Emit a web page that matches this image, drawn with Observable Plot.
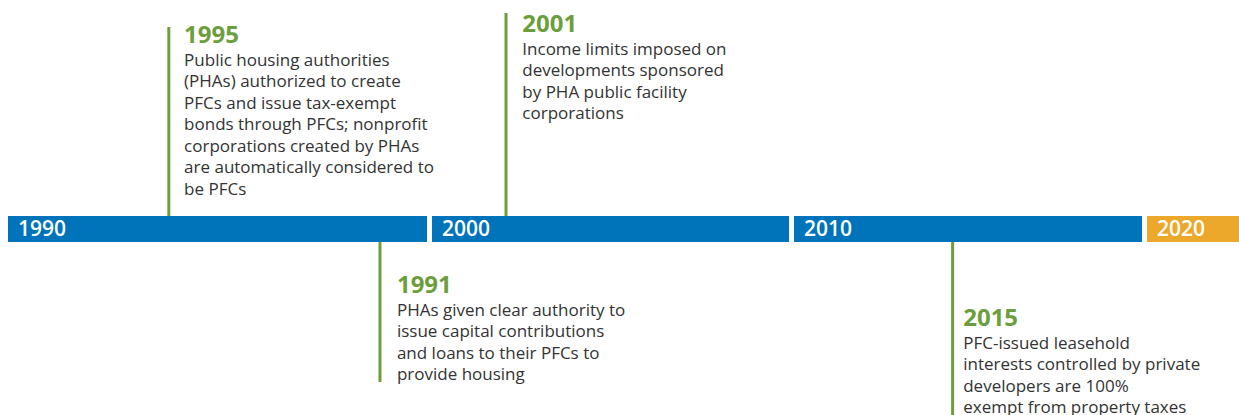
<!DOCTYPE html>
<html>
<head>
<meta charset="utf-8">
<script src="https://cdn.jsdelivr.net/npm/d3@7"></script>
<script src="https://cdn.jsdelivr.net/npm/@observablehq/plot@0.6"></script>
<style>
  html, body { margin: 0; padding: 0; background: #fff; }
  svg { display: block; }
</style>
</head>
<body>
<div id="chart"></div>
<script>
// Timeline decades (bar segments)
const decadeStarts = [1990, 2000, 2010, 2020];
const decadeEnds   = [2000, 2010, 2020, 2023];
const decadeLabels = ["1990", "2000", "2010", "2020"];
const decadeCurrent = [false, false, false, true];

// Events
const eventYears = ["1995", "2001", "1991", "2015"];
const eventAt     = [1993.84, 2002.1, 1998.82, 2014.55];   // marker position on the timeline
const eventTextAt = [1994.2, 2002.55, 1999.22, 2014.85];   // text column position on the timeline
const eventSide   = ["above", "above", "below", "below"];
const eventReach  = [202, 216, -153, -190];                // stem end (px from bar centre, up positive)
const eventTop    = [204, 215, -46, -79];                  // year label top
const eventTexts = [
  "Public housing authorities\n(PHAs) authorized to create\nPFCs and issue tax-exempt\nbonds through PFCs; nonprofit\ncorporations created by PHAs\nare automatically considered to\nbe PFCs",
  "Income limits imposed on\ndevelopments sponsored\nby PHA public facility\ncorporations",
  "PHAs given clear authority to\nissue capital contributions\nand loans to their PFCs to\nprovide housing",
  "PFC-issued leasehold\ninterests controlled by private\ndevelopers are 100%\nexempt from property taxes"
];

const decades = decadeStarts.map((s, i) => ({start: s, end: decadeEnds[i], label: decadeLabels[i], current: decadeCurrent[i]}));
const events = eventYears.map((y, i) => ({
  year: y, at: eventAt[i], textAt: eventTextAt[i], side: eventSide[i],
  reach: eventReach[i], top: eventTop[i], text: eventTexts[i],
  base: eventSide[i] === "above" ? 13 : -13
}));

const BLUE = "#0074bb", ORANGE = "#eca82b", GREEN = "#6c9e3b", INK = "#333333";
const FONT = "'Open Sans', Lato, sans-serif";

const chart = Plot.plot({
  width: 1239,
  height: 415,
  margin: 0,
  style: {fontFamily: FONT, background: "#fff"},
  x: {type: "linear", domain: [1990, 2000, 2010, 2020, 2023], range: [5.5, 429.5, 791.5, 1144.5, 1241.5], axis: null},
  y: {domain: [-186, 229], axis: null},
  marks: [
    Plot.rect(decades, {
      x1: "start", x2: "end", y1: -13, y2: 13,
      insetLeft: 2.5, insetRight: 2.5,
      fill: d => d.current ? ORANGE : BLUE
    }),
    Plot.text(decades, {
      x: "start", y: 0, text: "label", dx: 12,
      textAnchor: "start", lineAnchor: "middle",
      fill: "white", fontSize: 21, fontWeight: 600
    }),
    Plot.ruleX(events, {x: "at", y1: "base", y2: "reach", stroke: GREEN, strokeWidth: 3}),
    Plot.text(events, {
      x: "textAt", y: "top", text: "year",
      textAnchor: "start", lineAnchor: "top",
      fill: GREEN, fontSize: 24, fontWeight: 700
    }),
    Plot.text(events, {
      x: "textAt", y: "top", text: "text", dy: 25,
      textAnchor: "start", lineAnchor: "top", lineHeight: 1.265,
      fill: INK, fontSize: 17
    })
  ]
});
chart.querySelectorAll("text").forEach(t => {
  if (t.getAttribute("font-size") === "17") t.setAttribute("letter-spacing", "0.3");
});
document.getElementById("chart").appendChild(chart);
</script>
</body>
</html>
